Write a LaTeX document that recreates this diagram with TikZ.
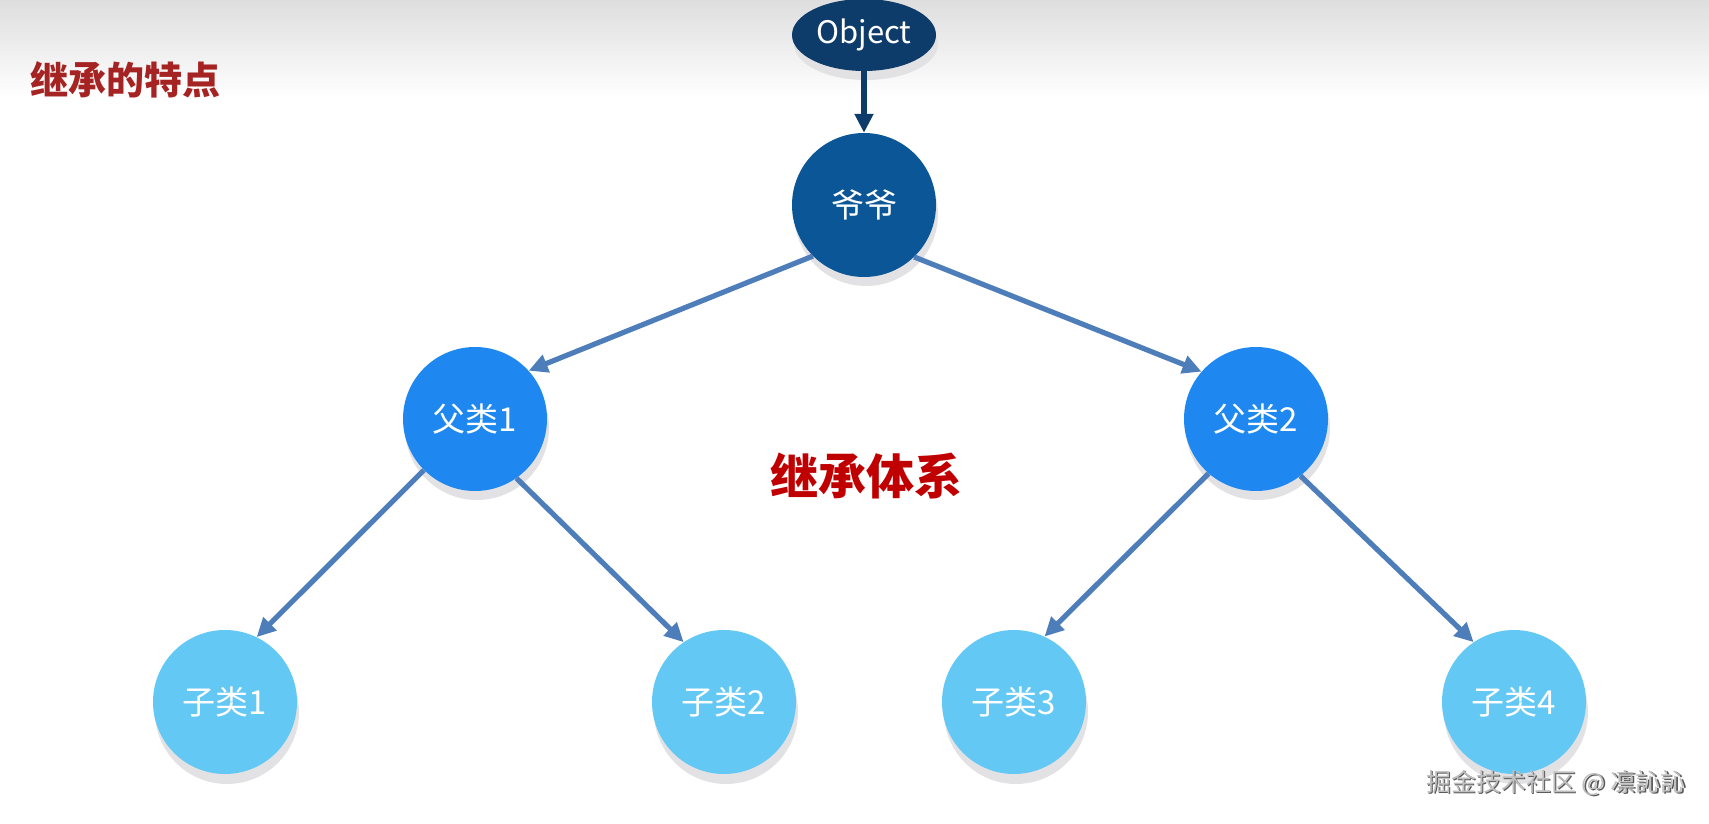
\documentclass[tikz,border=0pt]{standalone}
\usepackage{fontspec}
\newfontfamily\cjk{Noto Sans CJK SC}
\usetikzlibrary{arrows.meta,shapes.geometric}
\definecolor{objc}{RGB}{14,60,106}
\definecolor{yyc}{RGB}{10,86,150}
\definecolor{fc}{RGB}{30,136,240}
\definecolor{zc}{RGB}{100,200,245}
\definecolor{edgec}{RGB}{78,126,186}
\definecolor{shadowc}{RGB}{226,226,228}
\definecolor{bgtop}{RGB}{222,222,222}
\definecolor{titlec}{RGB}{165,35,35}
\definecolor{redc}{RGB}{192,0,0}
\tikzset{
  ball/.style={circle, minimum size=144pt, inner sep=0pt, text=white,
    font=\cjk\fontsize{33}{40}\selectfont},
  shad/.style={circle, minimum size=144pt, inner sep=0pt, fill=shadowc},
  link/.style={draw=edgec, line width=5.2pt, -{Triangle[length=19pt,width=18pt]}},
}
\begin{document}
\begin{tikzpicture}[x=1pt,y=1pt]
\useasboundingbox (0,0) rectangle (1709,823);
\fill[white] (0,0) rectangle (1709,823);
\shade[top color=bgtop, bottom color=white] (0,823) rectangle (1709,725);
% shadows
\node[ellipse, minimum width=144pt, minimum height=72pt, inner sep=0pt, fill=shadowc] at (866,779) {};
\foreach \p in {(866,609),(477,395),(1258,395),(227,111),(726,111),(1016,111),(1516,111)}
  \node[shad] at \p {};
% nodes
\node[ellipse, minimum width=144pt, minimum height=72pt, inner sep=0pt, fill=objc, text=white,
  font=\cjk\fontsize{31}{36}\selectfont] (obj) at (864,788) {Object};
\node[ball, fill=yyc] (yy) at (864,618) {爷爷};
\node[ball, fill=fc] (f1) at (475,404) {父类1};
\node[ball, fill=fc] (f2) at (1256,404) {父类2};
\node[ball, fill=zc] (z1) at (225,121) {子类1};
\node[ball, fill=zc] (z2) at (724,121) {子类2};
\node[ball, fill=zc] (z3) at (1014,121) {子类3};
\node[ball, fill=zc] (z4) at (1514,121) {子类4};
% connectors
\draw[draw=objc, line width=5.2pt, -{Triangle[length=19pt,width=18pt]}] (obj.south) -- (yy.north);
\draw[link] (yy.225) -- (f1.42);
\draw[link] (yy.-46) -- (f2.139);
\draw[link] (f1.225) -- (z1.64);
\draw[link] (f1.-55) -- (z2.124);
\draw[link] (f2.229) -- (z3.65);
\draw[link] (f2.-52) -- (z4.124);
% texts
\node[anchor=west, inner sep=0pt, text=titlec, font=\cjk\bfseries\fontsize{38}{44}\selectfont] (title) at (30,743) {继承的特点};
\node[inner sep=0pt, text=redc, font=\cjk\bfseries\fontsize{48}{56}\selectfont] (sys) at (866,347) {继承体系};
\node[inner sep=0pt, text=black!65, font=\cjk\fontsize{25}{30}\selectfont] (wms) at (1557.5,38.5) {掘金技术社区 @ 凛訫訫};
\node[inner sep=0pt, text=black!25, font=\cjk\fontsize{25}{30}\selectfont] (wm) at (1556,40) {掘金技术社区 @ 凛訫訫};
\end{tikzpicture}
\end{document}
